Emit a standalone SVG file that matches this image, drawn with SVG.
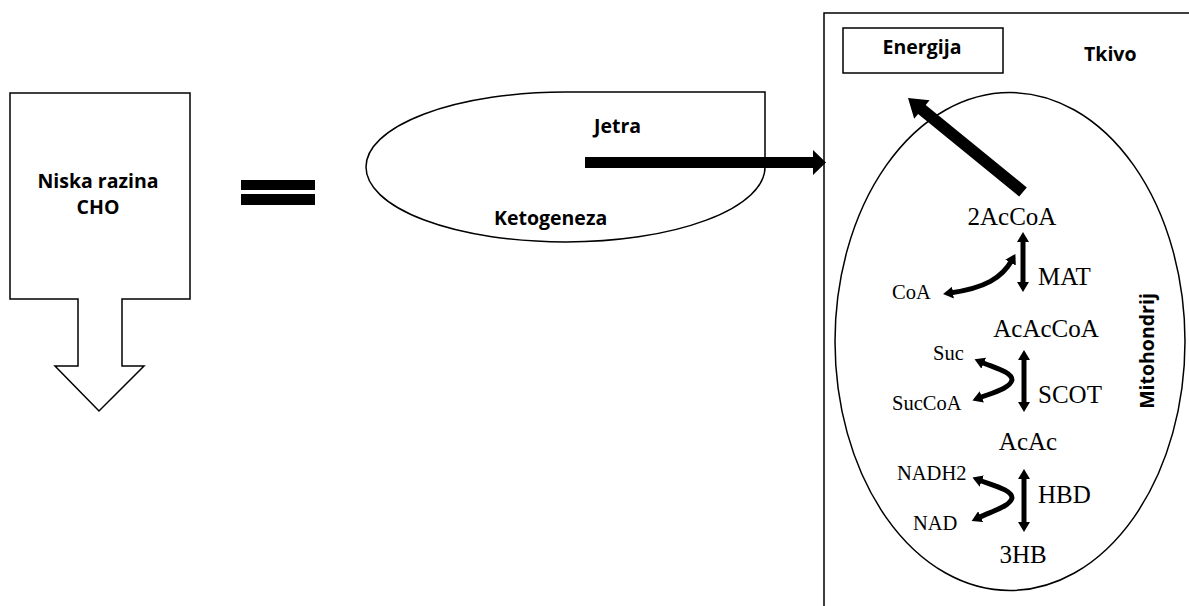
<svg xmlns="http://www.w3.org/2000/svg" width="1189" height="606" viewBox="0 0 1189 606">
<style>
.ol{fill:#fff;stroke:#000;stroke-width:1.5}
.ln{fill:none;stroke:#000;stroke-width:1.5}
.bs{font-family:"Open Sans","Liberation Sans",sans-serif;font-weight:700;font-size:19.5px;fill:#000}
.sf{font-family:"Liberation Serif","Times New Roman",serif;fill:#000}
.big{font-size:25px}
.sm{font-size:20.5px}
.ar{fill:none;stroke:#000;stroke-width:5}
</style>
<defs>
<marker id="ah" viewBox="0 0 10 12" refX="3" refY="6" markerWidth="10" markerHeight="12" markerUnits="userSpaceOnUse" orient="auto-start-reverse">
<path d="M0,0 L10,6 L0,12 z" fill="#000"/>
</marker>
</defs>
<rect width="1189" height="606" fill="#fff"/>

<g id="niska">
<path class="ol" d="M10,93 H190 V299 H122 V366 H144 L99,411 L55,366 H78 V299 H10 Z"/>
<text class="bs" x="98" y="188" text-anchor="middle">Niska razina</text>
<text class="bs" x="98" y="214" text-anchor="middle">CHO</text>
</g>

<g id="equals">
<rect x="241" y="180" width="74" height="10" fill="#000"/>
<rect x="241" y="194" width="74" height="11" fill="#000"/>
</g>

<g id="jetra">
<path class="ol" d="M565,92 H765 V167 A199,75 0 0 1 565,242 A199,75 0 0 1 366,167 A199,75 0 0 1 565,92 Z"/>
<text class="bs" x="594" y="133">Jetra</text>
<text class="bs" x="494" y="225">Ketogeneza</text>
</g>

<g id="tkivo">
<path class="ln" d="M824,606 V13 H1189"/>
<text class="bs" x="1084" y="61">Tkivo</text>
</g>

<g id="energija">
<rect class="ol" x="843" y="28" width="160" height="45"/>
<text class="bs" x="922" y="54" text-anchor="middle">Energija</text>
</g>

<g id="mitohondrij">
<ellipse class="ln" cx="1010" cy="341.5" rx="175" ry="249"/>
<text class="bs" transform="translate(1154,351) rotate(-90)" text-anchor="middle">Mitohondrij</text>
</g>

<g id="metabolites">
<text class="sf big" x="1012" y="225" text-anchor="middle">2AcCoA</text>
<text class="sf big" x="1038" y="285">MAT</text>
<text class="sf sm" x="892" y="299">CoA</text>
<text class="sf big" x="1046" y="337" text-anchor="middle">AcAcCoA</text>
<text class="sf sm" x="933" y="360">Suc</text>
<text class="sf sm" x="892" y="410">SucCoA</text>
<text class="sf big" x="1038" y="403">SCOT</text>
<text class="sf big" x="1028" y="450" text-anchor="middle">AcAc</text>
<text class="sf sm" x="897" y="480">NADH2</text>
<text class="sf big" x="1038" y="503">HBD</text>
<text class="sf sm" x="913" y="530">NAD</text>
<text class="sf big" x="1023" y="563" text-anchor="middle">3HB</text>
</g>

<g id="connectors">
<polygon points="585,157 813,157 813,150 826,162.5 813,175 813,168 585,168" fill="#000"/>
<polygon points="1026.8,187.4 925.7,104.9 929.6,100.2 908,98 914.2,118.8 918.1,114.1 1019.2,196.6" fill="#000"/>
<line class="ar" x1="1023" y1="239" x2="1023" y2="285" marker-start="url(#ah)" marker-end="url(#ah)"/>
<line class="ar" x1="1024" y1="357" x2="1024" y2="405" marker-start="url(#ah)" marker-end="url(#ah)"/>
<line class="ar" x1="1024" y1="476" x2="1024" y2="525" marker-start="url(#ah)" marker-end="url(#ah)"/>
<path class="ar" d="M950,293 C985,288 1002,278 1012,260" marker-start="url(#ah)" marker-end="url(#ah)"/>
<path class="ar" d="M981,362 C995,368 1012,372 1012,380 C1010,388 995,392 979,398" marker-start="url(#ah)" marker-end="url(#ah)"/>
<path class="ar" d="M979,480 C995,486 1012,490 1012,498 C1010,506 995,510 978,518" marker-start="url(#ah)" marker-end="url(#ah)"/>
</g>
</svg>
